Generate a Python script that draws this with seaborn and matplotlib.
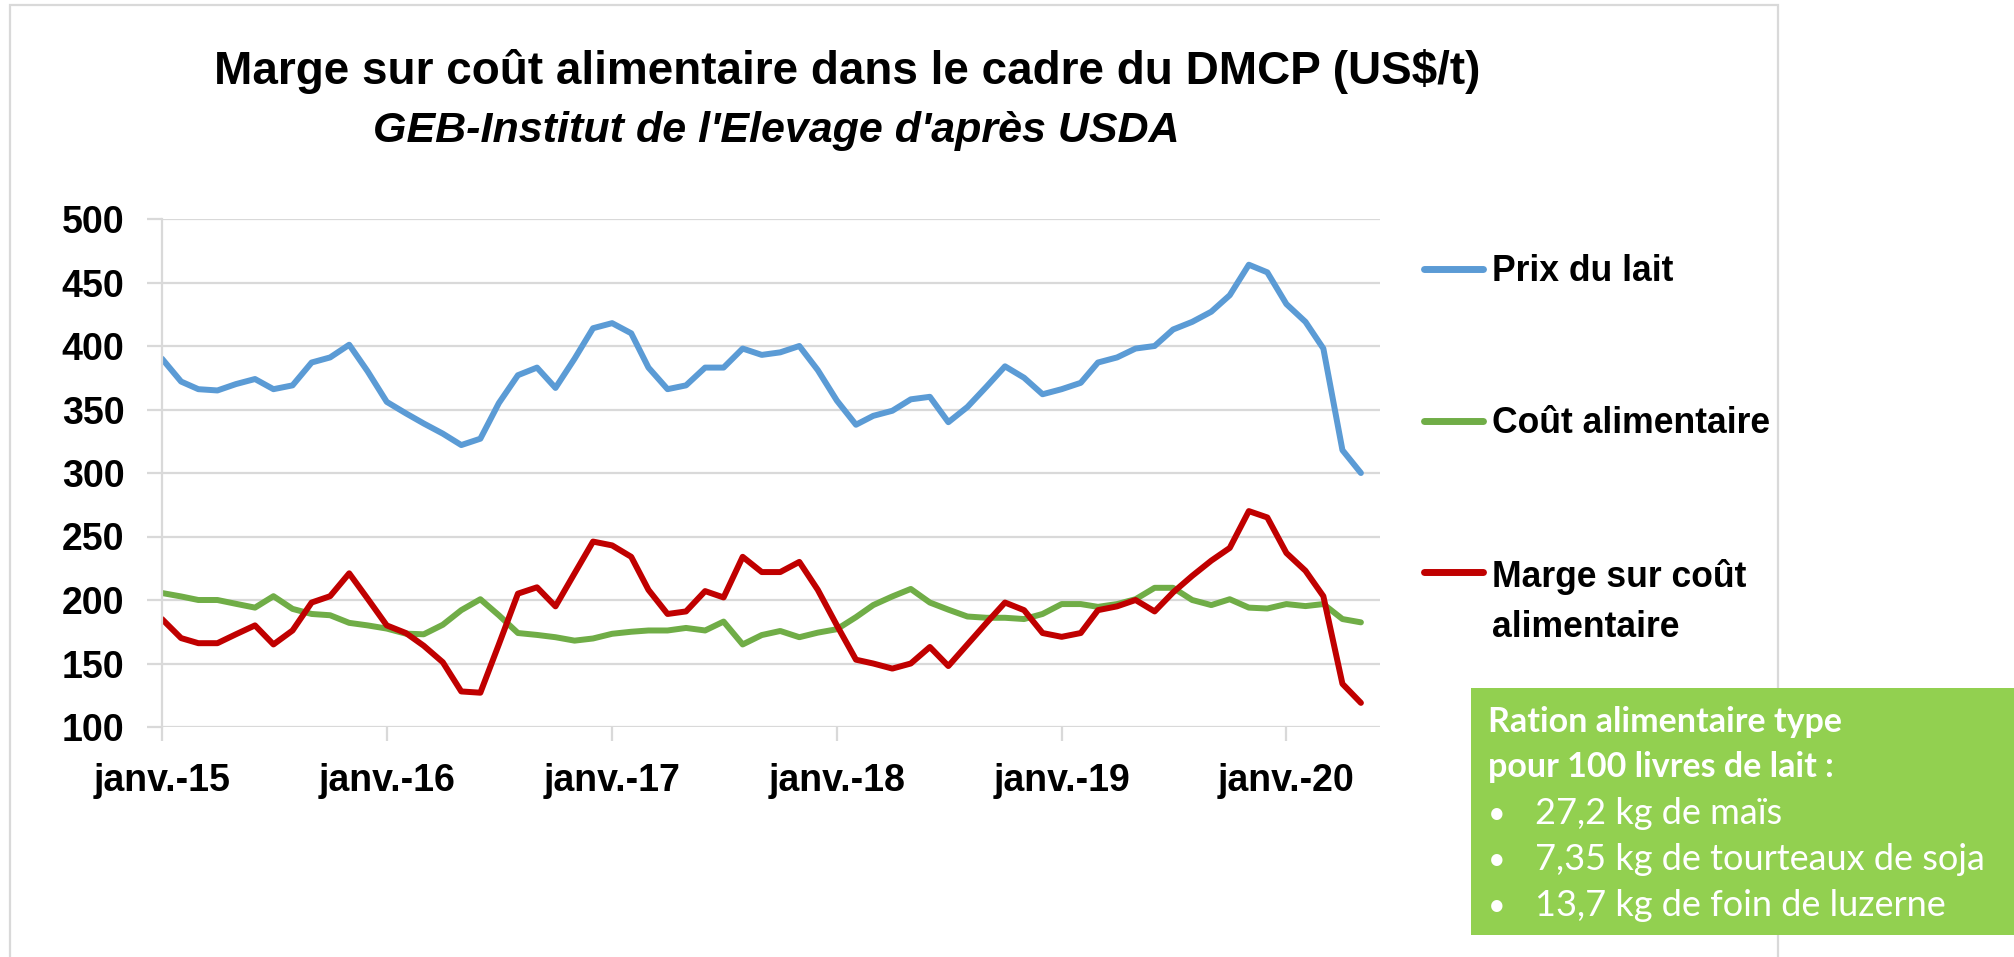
import numpy as np
import pandas as pd
import matplotlib.pyplot as plt
import seaborn as sns
from matplotlib.patches import Rectangle
from matplotlib.lines import Line2D
from matplotlib.legend_handler import HandlerLine2D

# ---- données (US$/t, mensuel janv. 2015 -> mai 2020) ----
mois = pd.date_range("2015-01-01", periods=65, freq="MS")

prix_lait = [390, 372, 366, 365, 370, 374, 366, 369, 387, 391, 401, 380,
             356, 347, 339, 331, 322, 327, 355, 377, 383, 367, 390, 414,
             418, 410, 383, 366, 369, 383, 383, 398, 393, 395, 400, 381,
             357, 338, 345, 349, 358, 360, 340, 352, 368, 384, 375, 362,
             366, 371, 387, 391, 398, 400, 413, 419, 427, 440, 464, 458,
             433, 419, 398, 318, 300]

cout_alim = [205.5, 202.8, 200, 200, 197, 194, 203, 193, 189, 188, 182, 180,
             177.5, 173.5, 173, 180.5, 192, 200.6, 188, 174, 172.5, 170.7, 168, 169.7,
             173.4, 175, 176, 176, 178, 176, 183, 165, 172.4, 175.6, 170.7, 174.3,
             177, 186.5, 196, 202.8, 208.7, 198, 192.4, 187, 186, 186, 185, 189,
             196.8, 196.8, 194.6, 196.8, 200.6, 209.6, 209.6, 200, 196, 200.6, 194, 193.3,
             196.8, 195.2, 196.8, 185, 182.4]

marge = [185, 170, 166, 166, 173, 180, 165, 176, 198, 203, 221, 201,
         180, 174, 164, 151, 128, 127, 165, 205, 210, 195, 221, 246,
         243, 234, 208, 189, 191, 207, 202, 234, 222, 222, 230, 208,
         180, 153, 150, 146, 150, 163, 148, 165, 182, 198, 192, 174,
         171, 174, 192, 195, 200, 191, 206, 219, 231, 241, 270, 265,
         237, 223, 203, 134, 119]

series_noms = ["Prix du lait", "Coût alimentaire", "Marge sur coût\nalimentaire"]
couleurs = ["#5B9BD5", "#70AD47", "#C00000"]

annees_ticks = pd.date_range("2015-01-01", "2020-01-01", freq="YS")
annees_labels = ["janv.-15", "janv.-16", "janv.-17", "janv.-18", "janv.-19", "janv.-20"]

titre = "Marge sur coût alimentaire dans le cadre du DMCP (US$/t)"
sous_titre = "GEB-Institut de l'Elevage d'après USDA"
ration_titre = ["Ration alimentaire type", "pour 100 livres de lait :"]
ration_items = ["27,2 kg de maïs", "7,35 kg de tourteaux de soja", "13,7 kg de foin de luzerne"]

df = pd.DataFrame({
    "mois": np.tile(mois, 3),
    "valeur": prix_lait + cout_alim + marge,
    "serie": np.repeat(series_noms, len(mois)),
})

sns.set_theme(style="white")
plt.rcParams["font.family"] = ["Liberation Sans", "DejaVu Sans"]

W, H = 2015, 957
fig = plt.figure(figsize=(W / 100, H / 100), dpi=100)
ax = fig.add_axes([162 / W, 1 - 727 / H, (1380 - 162) / W, (727 - 219) / H])

sns.lineplot(data=df, x="mois", y="valeur", hue="serie", hue_order=series_noms,
             palette=couleurs, linewidth=4.3, ax=ax, legend=False)

ax.set_ylim(100, 500)
ax.set_yticks(range(100, 501, 50))
ax.set_xlim(pd.Timestamp("2015-01-01"), pd.Timestamp("2020-06-01"))
ax.set_xticks(annees_ticks)
ax.set_xticklabels(annees_labels)
ax.set_xlabel("")
ax.set_ylabel("")
ax.grid(axis="y", color="#D9D9D9", linewidth=1.6)
ax.set_axisbelow(True)
for s in ["top", "right", "bottom"]:
    ax.spines[s].set_visible(False)
ax.spines["left"].set_color("#D9D9D9")
ax.spines["left"].set_linewidth(1.6)
ax.tick_params(axis="y", left=True, length=11, width=1.6, color="#D9D9D9", pad=16,
               labelsize=27, labelcolor="black")
ax.tick_params(axis="x", bottom=True, length=10, width=1.6, color="#D9D9D9", pad=16,
               labelsize=27, labelcolor="black")
for lbl in ax.get_xticklabels() + ax.get_yticklabels():
    lbl.set_fontweight("bold")


# legende : le trait de la 3e entree est aligne sur la 1re ligne du libelle
class TraitRemonte(HandlerLine2D):
    def __init__(self, decalage, **kw):
        super().__init__(**kw)
        self.decalage = decalage

    def create_artists(self, legend, orig_handle, xdescent, ydescent, width,
                       height, fontsize, trans):
        arts = super().create_artists(legend, orig_handle, xdescent, ydescent,
                                      width, height, fontsize, trans)
        for a in arts:
            a.set_ydata(np.asarray(a.get_ydata()) + self.decalage)
        return arts


poignees = [Line2D([], [], color=c, linewidth=5) for c in couleurs]
leg = ax.legend(poignees, series_noms, loc="upper left",
                bbox_to_anchor=(1424 / W, 1 - 254 / H), bbox_transform=fig.transFigure,
                frameon=False, prop={"weight": "bold", "size": 25.6},
                handlelength=1.65, handletextpad=0.25, labelspacing=3.3,
                borderpad=0, borderaxespad=0,
                handler_map={poignees[2]: TraitRemonte(22.5)})
for t in leg.get_texts():
    t.set_linespacing(1.58)
    t.set_color("black")

# titres
fig.text(847 / W, 1 - 71 / H, titre, fontsize=33, fontweight="bold",
         ha="center", va="center", color="black")
fig.text(776 / W, 1 - 131 / H, sous_titre, fontsize=31, fontweight="bold",
         style="italic", ha="center", va="center", color="black")

# cadre du graphique
fig.patches.append(Rectangle((10 / W, -0.02), (1778 - 10) / W, 1 - 5 / H + 0.02,
                             transform=fig.transFigure, fill=False,
                             edgecolor="#D9D9D9", linewidth=1.6, zorder=0))

# encadre vert
fig.patches.append(Rectangle((1471 / W, 1 - 935 / H), 1 - 1471 / W, (935 - 688) / H,
                             transform=fig.transFigure, facecolor="#92D050",
                             edgecolor="none", zorder=3))
police_box = ["Lato", "DejaVu Sans"]
for k, ligne in enumerate(ration_titre):
    fig.text(1488 / W, 1 - (722 + 45 * k) / H, ligne, fontsize=24.5, fontweight="bold",
             color="white", va="center", family=police_box, zorder=4)
for k, item in enumerate(ration_items):
    y = 1 - (814 + 46 * k) / H
    fig.text(1488 / W, y, "•", fontsize=22, color="white", va="center",
             family=police_box, zorder=4)
    fig.text(1535 / W, y, item, fontsize=26, color="white", va="center",
             family=police_box, zorder=4)

fig.savefig("out.png", dpi=100)
